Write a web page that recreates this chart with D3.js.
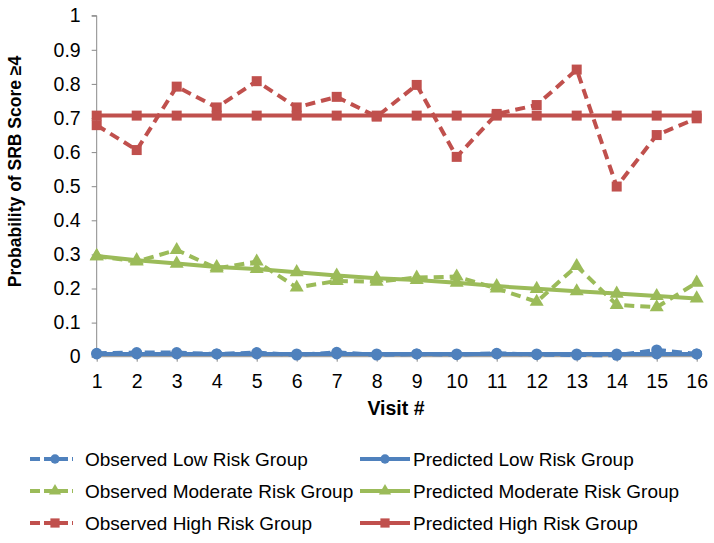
<!DOCTYPE html>
<html><head><meta charset="utf-8">
<script src="https://cdn.jsdelivr.net/npm/d3@7"></script>
<style>body{margin:0;background:#fff}svg{display:block}text{font-family:"Liberation Sans",Arial,sans-serif}</style>
</head><body>
<svg id="c" width="714" height="543"></svg>
<script>
const visits = [1,2,3,4,5,6,7,8,9,10,11,12,13,14,15,16];
const yTicks = [0,0.1,0.2,0.3,0.4,0.5,0.6,0.7,0.8,0.9,1];
const obsLow = [0.010,0.012,0.012,0.008,0.012,0.005,0.013,0.005,0.008,0.006,0.010,0.006,0.005,0.004,0.020,0.008];
const predLow = [0.008,0.008,0.008,0.008,0.008,0.008,0.008,0.008,0.008,0.008,0.008,0.008,0.008,0.008,0.008,0.008];
const obsMod = [0.295,0.279,0.313,0.259,0.279,0.203,0.222,0.220,0.232,0.235,0.200,0.161,0.266,0.152,0.145,0.217];
const predMod = [0.295,0.283,0.273,0.263,0.257,0.248,0.238,0.230,0.225,0.217,0.207,0.199,0.192,0.185,0.178,0.171];
const obsHigh = [0.679,0.606,0.792,0.731,0.808,0.731,0.762,0.704,0.797,0.586,0.712,0.738,0.842,0.499,0.650,0.699];
const predHigh = [0.707,0.707,0.707,0.707,0.707,0.707,0.707,0.707,0.707,0.707,0.707,0.707,0.707,0.707,0.707,0.707];
const seriesNames = ["Observed Low Risk Group","Predicted Low Risk Group","Observed Moderate Risk Group","Predicted Moderate Risk Group","Observed High Risk Group","Predicted High Risk Group"];

const blue="#4F81BD", green="#9BBB59", red="#C0504D";
const series = [
  {name:seriesNames[0], vals:obsLow, color:blue, dash:true, sym:"circle"},
  {name:seriesNames[2], vals:obsMod, color:green, dash:true, sym:"triangle"},
  {name:seriesNames[4], vals:obsHigh, color:red, dash:true, sym:"square"},
  {name:seriesNames[1], vals:predLow, color:blue, dash:false, sym:"circle"},
  {name:seriesNames[3], vals:predMod, color:green, dash:false, sym:"triangle"},
  {name:seriesNames[5], vals:predHigh, color:red, dash:false, sym:"square"}
];

const svg = d3.select("#c");
const x = d3.scalePoint().domain(visits).range([96.7,696.7]);
const y = d3.scaleLinear().domain([0,1]).range([356.7,15.7]);
const axisColor="#898989";

// y axis
const ya = svg.append("g").attr("transform","translate(96.7,0)")
  .call(d3.axisLeft(y).tickValues(yTicks).tickSize(5).tickPadding(11).tickFormat(d=>d3.format("")(d)));
ya.select(".domain").attr("stroke",axisColor).attr("d","M-5,15.7H0V356.7H-5");
ya.selectAll(".tick line").attr("stroke",axisColor);
ya.selectAll(".tick text").attr("font-size",19.5).attr("fill","#000");

// x axis
const xa = svg.append("g").attr("transform","translate(0,356.7)")
  .call(d3.axisBottom(x).tickSize(5).tickPadding(12.5));
xa.select(".domain").attr("stroke",axisColor).attr("d","M96.7,0H696.7");
xa.selectAll(".tick line").attr("stroke",axisColor);
xa.selectAll(".tick text").attr("font-size",19.5).attr("fill","#000");

// titles
svg.append("text").attr("x",396).attr("y",415).attr("text-anchor","middle")
  .attr("font-size",19.5).attr("font-weight","bold").text("Visit #");
svg.append("text").attr("transform","translate(21,171.5) rotate(-90)").attr("text-anchor","middle")
  .attr("font-size",17.5).attr("font-weight","bold").text("Probability of SRB Score ≥4");

const symGen = {
  circle: d3.symbol().type(d3.symbolCircle).size(95),
  triangle: d3.symbol().type(d3.symbolTriangle).size(85),
  square: d3.symbol().type(d3.symbolSquare).size(100)
};
const line = d3.line().x((d,i)=>x(visits[i])).y(d=>y(d));

const g = svg.append("g");
series.forEach(s=>{
  const sg = g.append("g");
  sg.append("path").attr("d",line(s.vals)).attr("fill","none").attr("stroke",s.color)
    .attr("stroke-width",4).attr("stroke-dasharray",s.dash?"10,6":null).attr("stroke-linejoin","round");
  sg.selectAll("path.m").data(s.vals).join("path").attr("class","m")
    .attr("transform",(d,i)=>`translate(${x(visits[i])},${y(d)})`)
    .attr("d",symGen[s.sym]()).attr("fill",s.color);
});

// legend
const legendItems = [
  {s:series[0], lx:30, ly:459},{s:series[3], lx:360, ly:459},
  {s:series[1], lx:30, ly:491},{s:series[4], lx:360, ly:491},
  {s:series[2], lx:30, ly:523},{s:series[5], lx:360, ly:523}
];
const lsym = {
  circle: d3.symbol().type(d3.symbolCircle).size(70),
  triangle: d3.symbol().type(d3.symbolTriangle).size(65),
  square: d3.symbol().type(d3.symbolSquare).size(85)
};
legendItems.forEach(it=>{
  const lg = svg.append("g").attr("transform",`translate(${it.lx},${it.ly})`);
  lg.append("line").attr("x1",0).attr("x2",it.s.dash?43:50).attr("y1",0).attr("y2",0).attr("stroke",it.s.color)
    .attr("stroke-width",4).attr("stroke-dasharray",it.s.dash?"10,4":null);
  lg.append("path").attr("transform",`translate(${it.s.dash?25:25},0)`).attr("d",lsym[it.s.sym]()).attr("fill",it.s.color);
  lg.append("text").attr("x",it.s.dash?55:53).attr("y",7).attr("font-size",19).attr("fill","#000").text(it.s.name);
});
</script>
</body></html>
